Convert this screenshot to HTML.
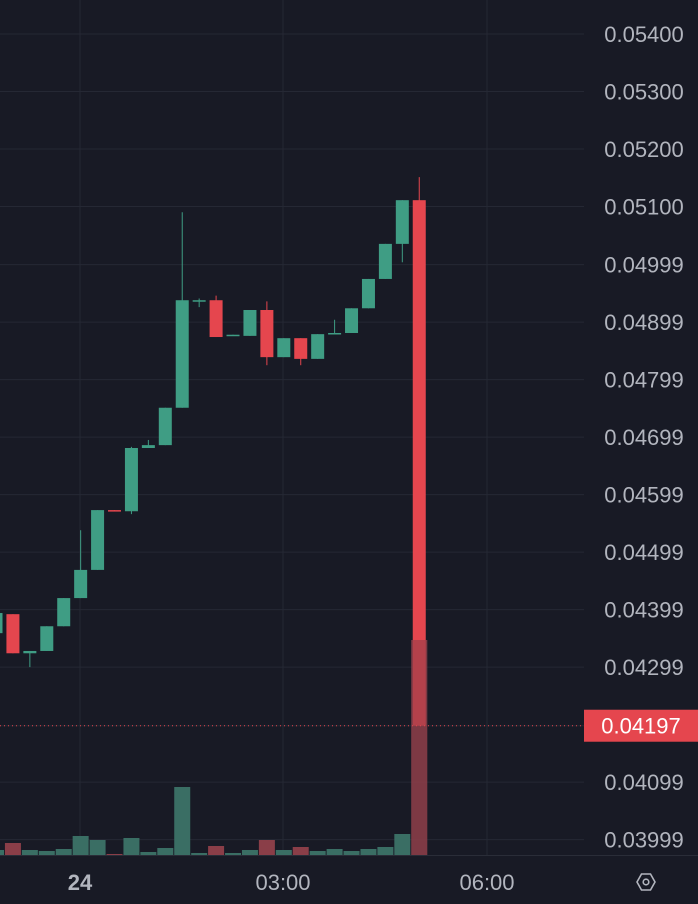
<!DOCTYPE html>
<html><head><meta charset="utf-8"><style>
body{margin:0;background:#181a25;width:698px;height:904px;overflow:hidden;font-family:"Liberation Sans",sans-serif}
svg{display:block}
</style></head><body>
<svg id="c" width="698" height="904"></svg>
<script>
const opens  =[0.04358,0.04391,0.04323,0.04327,0.04370,0.04419,0.04468,0.04572,0.04570,0.04680,0.04685,0.04750,0.04935,0.04937,0.04875,0.04875,0.04920,0.04838,0.04871,0.04835,0.04878,0.04880,0.04923,0.04974,0.05035,0.05111];
const closes =[0.04393,0.04323,0.04327,0.04370,0.04419,0.04468,0.04572,0.04570,0.04680,0.04685,0.04750,0.04937,0.04937,0.04873,0.04877,0.04920,0.04838,0.04871,0.04835,0.04878,0.04880,0.04923,0.04974,0.05035,0.05111,0.04197];
const highs  =[0.04393,0.04391,0.04327,0.04370,0.04419,0.04537,0.04572,0.04572,0.04682,0.04694,0.04750,0.05090,0.04940,0.04945,0.04877,0.04920,0.04935,0.04871,0.04871,0.04878,0.04903,0.04923,0.04974,0.05035,0.05111,0.05151];
const lows   =[0.04358,0.04323,0.04299,0.04327,0.04370,0.04419,0.04468,0.04570,0.04565,0.04680,0.04685,0.04750,0.04925,0.04873,0.04875,0.04875,0.04824,0.04838,0.04824,0.04835,0.04878,0.04880,0.04923,0.04974,0.05003,0.04197];
const volumes=[5,12,5,4,6,19,15,1,17,3,7,68,2,9,2,5,15,5,8,4,6,4,6,8,21,215];
const priceTicks=["0.05400","0.05300","0.05200","0.05100","0.04999","0.04899","0.04799","0.04699","0.04599","0.04499","0.04399","0.04299","0.04197","0.04099","0.03999"];
const timeLabels=[["24",80,true],["03:00",283,false],["06:00",487,false]];
const lastPrice=0.04197;

const NS="http://www.w3.org/2000/svg",svg=document.getElementById('c');
function el(t,a,p){const e=document.createElementNS(NS,t);for(const k in a)e.setAttribute(k,a[k]);(p||svg).appendChild(e);return e;}
const y=p=>34+(0.054-p)/0.001*57.5;
const x=i=>-4+i*16.93;
const vy=v=>855-v;
const G="#3f9d84",R="#e5464e";
priceTicks.forEach(t=>{const g=el('line',{x1:0,x2:584,y1:y(+t),y2:y(+t),stroke:'#252834'});
});
timeLabels.forEach(t=>{const g=el('line',{x1:t[1],x2:t[1],y1:0,y2:855,stroke:'#252834'});
});
volumes.forEach((v,i)=>{const up=closes[i]>=opens[i];
const r=el('rect',{x:x(i)-8,y:vy(v),width:16,height:v,fill:up?'#3a6e64':'#8a3e48',opacity:i==25?0.75:1});
});
opens.forEach((o,i)=>{const c=closes[i],up=c>=o,col=up?G:R,cx=x(i);
const g=el('g',{});
el('line',{x1:cx,x2:cx,y1:y(highs[i]),y2:y(lows[i]),stroke:col,'stroke-width':1},g);
const t=Math.min(y(o),y(c)),h=Math.max(1.5,Math.abs(y(o)-y(c)));
el('rect',{x:cx-6.5,y:t,width:13,height:h,fill:col},g);});
{const i=25,v=volumes[i];const r=el('rect',{x:x(i)-8,y:vy(v),width:16,height:v,fill:'#8a3e48',opacity:0.55});
}
const pl=el('line',{x1:0,x2:584,y1:y(lastPrice),y2:y(lastPrice),stroke:R,'stroke-dasharray':'1 3','stroke-width':1});

el('line',{x1:0,x2:698,y1:855.5,y2:855.5,stroke:'#2a2d38'});
priceTicks.forEach(t=>{if(+t===lastPrice)return;const tx=el('text',{x:644,y:y(+t)+8,'text-anchor':'middle','font-size':22,fill:'#b2b5be'});tx.textContent=t;
});
const lb=el('rect',{x:584,y:y(lastPrice)-16,width:114,height:32,fill:R});

const lt=el('text',{x:641,y:y(lastPrice)+8,'text-anchor':'middle','font-size':22,fill:'#fff'});lt.textContent=lastPrice.toFixed(5);

timeLabels.forEach(t=>{const tx=el('text',{x:t[1],y:890,'text-anchor':'middle','font-size':22,fill:'#b2b5be','font-weight':t[2]?'bold':'normal'});tx.textContent=t[0];
});
const s=el('g',{});
el('polygon',{points:'637,882 641.5,874 650.5,874 655,882 650.5,890 641.5,890',fill:'none',stroke:'#b2b5be','stroke-width':1.6},s);
el('circle',{cx:646,cy:882,r:2.8,fill:'none',stroke:'#b2b5be','stroke-width':1.6},s);
</script>
</body></html>
